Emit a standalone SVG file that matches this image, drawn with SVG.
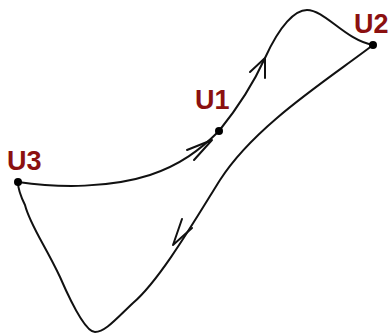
<svg xmlns="http://www.w3.org/2000/svg" width="390" height="333" viewBox="0 0 390 333">
<style>
.c{fill:none;stroke:#111;stroke-width:2;stroke-linecap:round;stroke-linejoin:round}
.a{fill:none;stroke:#111;stroke-width:2;stroke-linecap:round;stroke-linejoin:round}
.d{fill:#000}
.l{font-family:"Liberation Sans",Arial,sans-serif;font-weight:bold;font-size:27px;fill:#8b1010}
</style>
<rect width="390" height="333" fill="#fff"/>
<g id="connectors">
<path class="c" d="M18,182 C60,188 110,188 150,175 C180,165 200,150 219,131"/>
<path class="a" d="M187,150 L212,140 L194,160"/>
<path class="c" d="M219,131 C240,105 255,80 265,58 C280,25 295,10 307,10 C325,10 345,40 373,45"/>
<path class="a" d="M250,72 L265,58 L265,78"/>
<path class="c" d="M373,45 C330,78 255,125 220,180 C195,220 160,280 133,303 C115,320 105,332 95,332 C85,332 70,300 60,277 C45,245 30,225 25,205 C20,195 18,188 18,182"/>
<path class="a" d="M182,219 L173,245 L192,228"/>
</g>
<g id="U1"><circle class="d" cx="219" cy="131" r="4"/><text class="l" x="195" y="109">U1</text></g>
<g id="U2"><circle class="d" cx="373" cy="45" r="4"/><text class="l" x="354" y="33">U2</text></g>
<g id="U3"><circle class="d" cx="18" cy="182" r="4"/><text class="l" x="7" y="170">U3</text></g>
</svg>
